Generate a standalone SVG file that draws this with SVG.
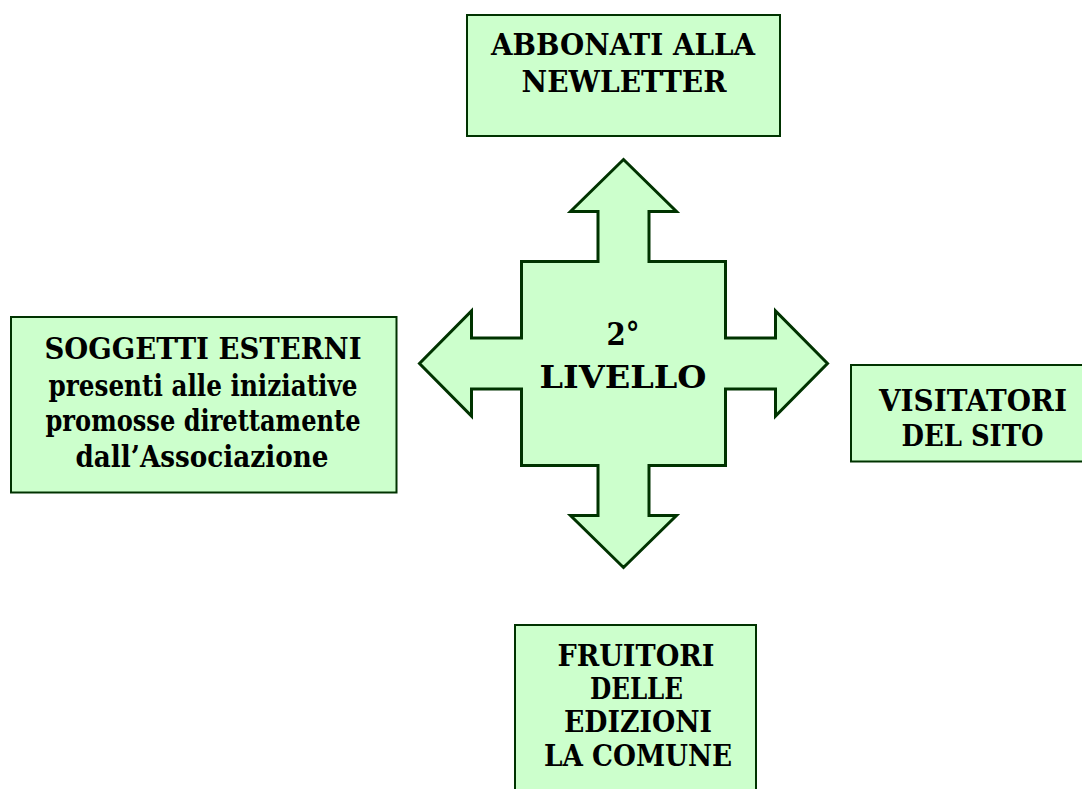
<svg xmlns="http://www.w3.org/2000/svg" width="1082" height="789" viewBox="0 0 1082 789">
<style>
.box{fill:#CCFFCC;stroke:#003300;stroke-width:2}
.cross{fill:#CCFFCC;stroke:#003300;stroke-width:3;stroke-linejoin:miter}
text{font-family:'DejaVu Serif','Liberation Serif',serif;font-weight:bold;font-size:30px;fill:#000;text-anchor:middle}
.big{font-size:32px}
</style>
<rect width="1082" height="789" fill="#fff"/>
<g id="connectors">
<path id="center" class="cross" d="M623.5,159.5 L676.5,211.5 L649,211.5 L649,261.5 L725.5,261.5 L725.5,338 L775.5,338 L775.5,311 L827.5,363.5 L775.5,416 L775.5,389 L725.5,389 L725.5,465.5 L649,465.5 L649,515.5 L676.5,515.5 L623.5,567.5 L570.5,515.5 L598,515.5 L598,465.5 L521.5,465.5 L521.5,389 L471.5,389 L471.5,416 L419.5,363.5 L471.5,311 L471.5,338 L521.5,338 L521.5,261.5 L598,261.5 L598,211.5 L570.5,211.5 Z"/>
</g>
<g id="node-centro">
<text class="big" x="623" y="345" textLength="33" lengthAdjust="spacingAndGlyphs">2°</text>
<text class="big" x="623" y="388" textLength="167" lengthAdjust="spacingAndGlyphs">LIVELLO</text>
</g>
<g id="node-abbonati">
<rect class="box" x="467" y="15" width="313" height="121"/>
<text x="623" y="55" textLength="264" lengthAdjust="spacingAndGlyphs">ABBONATI ALLA</text>
<text x="624" y="92" textLength="205" lengthAdjust="spacingAndGlyphs">NEWLETTER</text>
</g>
<g id="node-soggetti">
<rect class="box" x="11" y="317" width="385.5" height="175.5"/>
<text x="203" y="359" textLength="317" lengthAdjust="spacingAndGlyphs">SOGGETTI ESTERNI</text>
<text x="203" y="396" textLength="309" lengthAdjust="spacingAndGlyphs">presenti alle iniziative</text>
<text x="203" y="431" textLength="315" lengthAdjust="spacingAndGlyphs">promosse direttamente</text>
<text x="202" y="467" textLength="253" lengthAdjust="spacingAndGlyphs">dall’Associazione</text>
</g>
<g id="node-visitatori">
<rect class="box" x="851" y="365" width="240" height="96.5"/>
<text x="973" y="411" textLength="188" lengthAdjust="spacingAndGlyphs">VISITATORI</text>
<text x="972.5" y="446" textLength="142" lengthAdjust="spacingAndGlyphs">DEL SITO</text>
</g>
<g id="node-fruitori">
<rect class="box" x="515" y="625" width="241" height="180"/>
<text x="636" y="666" textLength="157" lengthAdjust="spacingAndGlyphs">FRUITORI</text>
<text x="636.5" y="699" textLength="93" lengthAdjust="spacingAndGlyphs">DELLE</text>
<text x="638" y="732" textLength="148" lengthAdjust="spacingAndGlyphs">EDIZIONI</text>
<text x="638" y="766" textLength="188" lengthAdjust="spacingAndGlyphs">LA COMUNE</text>
</g>
</svg>
